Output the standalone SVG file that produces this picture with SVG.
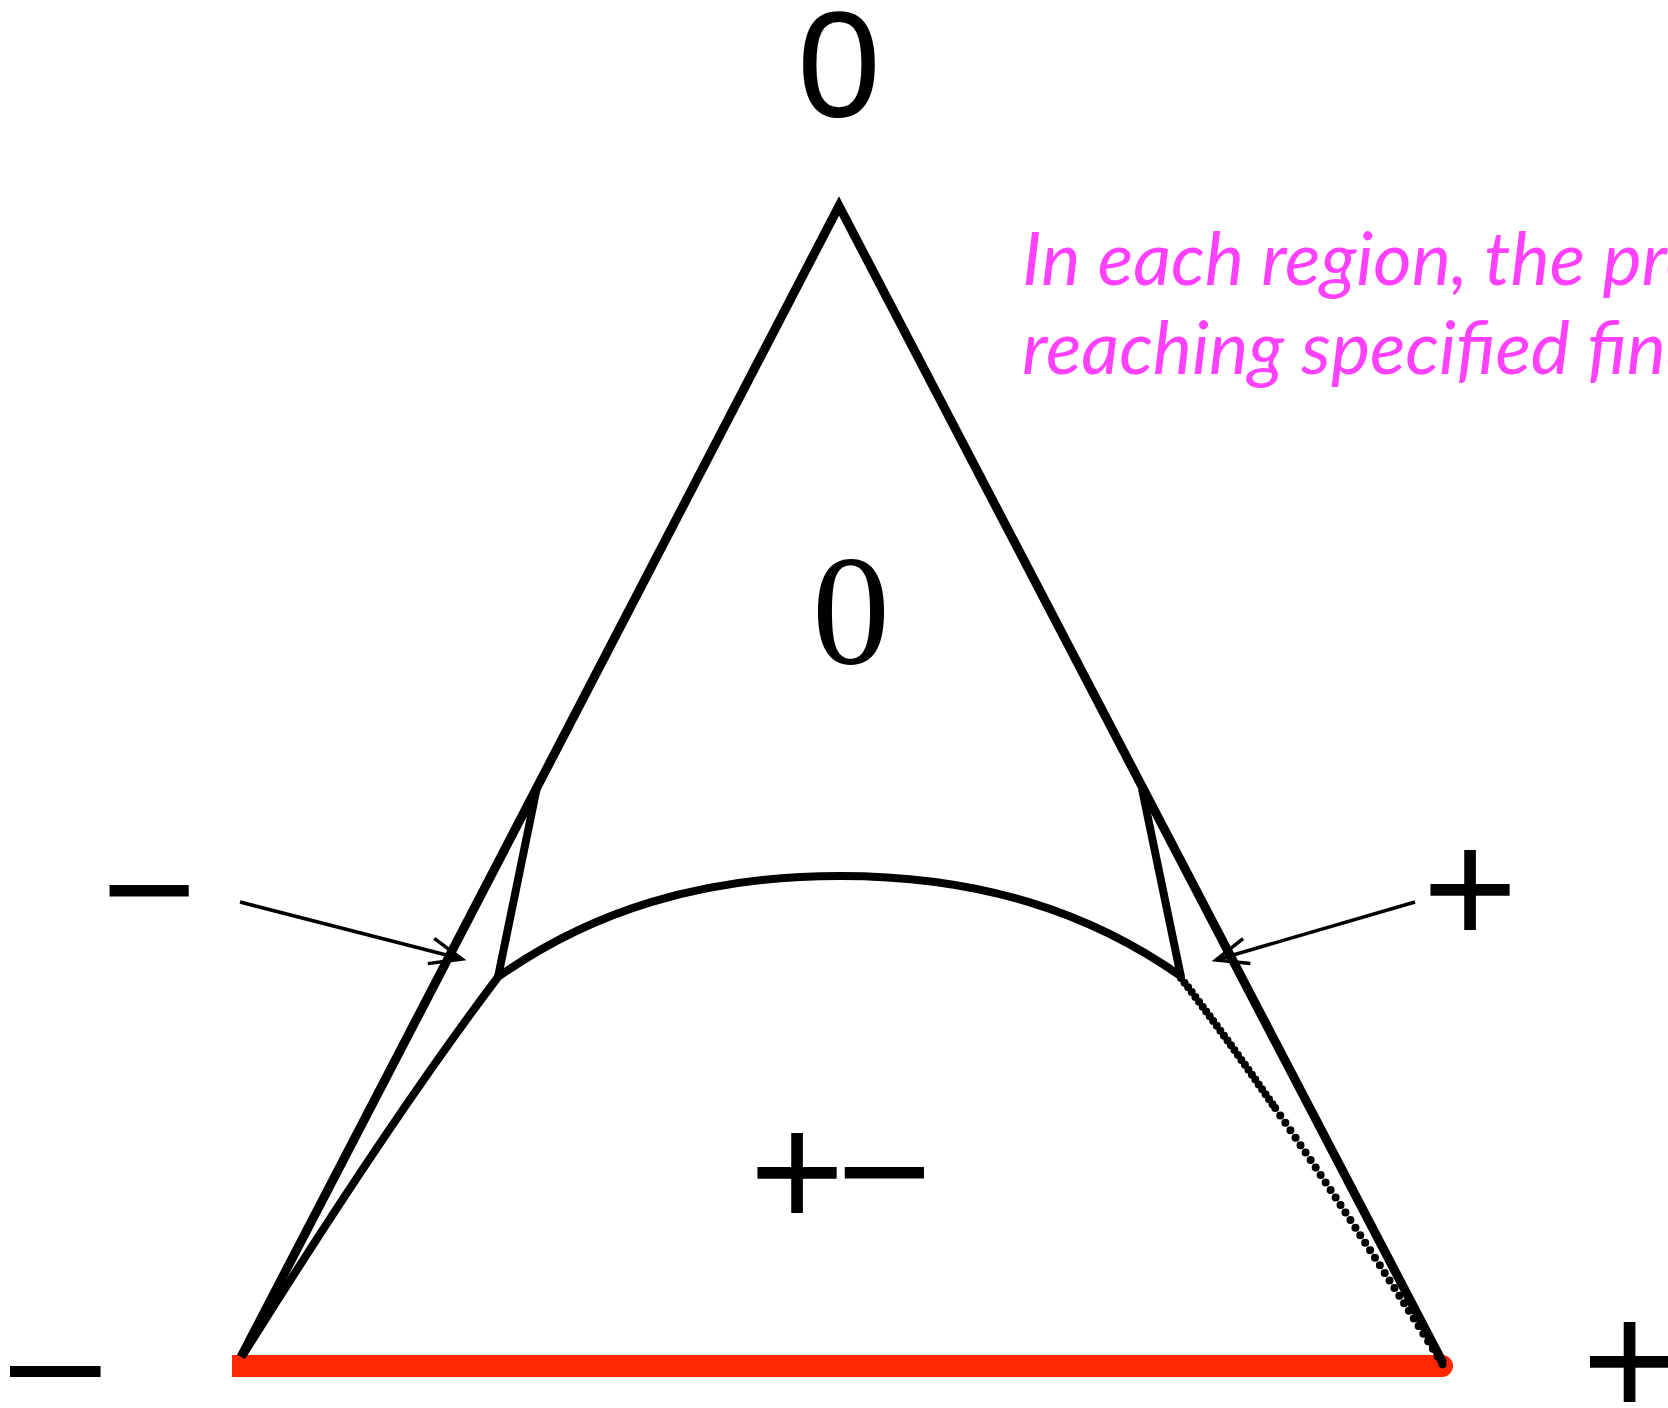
<svg xmlns="http://www.w3.org/2000/svg" width="1668" height="1408" viewBox="0 0 1668 1408">
  <style>
    .edge { fill: none; stroke: #000; stroke-width: 9; stroke-linejoin: miter; stroke-linecap: butt; }
    .thin { fill: none; stroke: #000; stroke-width: 8; stroke-linejoin: miter; stroke-linecap: butt; }
    .dots { fill: none; stroke: #000; stroke-width: 8; stroke-linecap: round; }
    .conn { fill: none; stroke: #000; stroke-width: 3.5; }
    .sign { font-family: "Liberation Sans", Arial, sans-serif; font-size: 163px; fill: #000; }
    .big0 { font-family: "Liberation Sans", Arial, sans-serif; font-size: 150px; fill: #000; text-anchor: middle; }
    .serif0 { font-family: "Liberation Serif", "Times New Roman", serif; font-size: 156px; fill: #000; text-anchor: middle; }
    .note { font-family: Lato, "Open Sans", sans-serif; font-style: italic; font-size: 74px; fill: #ff40ff; }
  </style>
  <defs>
    <marker id="arrow" markerUnits="userSpaceOnUse" viewBox="-36 -16 40 32" markerWidth="40" markerHeight="32" refX="0" refY="0" orient="auto" overflow="visible">
      <path d="M-32,-13 L0,0 L-32,13" fill="none" stroke="#000" stroke-width="3.5"/>
    </marker>
  </defs>
  <rect width="1668" height="1408" fill="#fff"/>

  <g id="base">
    <line x1="232" y1="1366" x2="1442" y2="1366" stroke="#ff2800" stroke-width="22"/>
    <circle cx="1442" cy="1366" r="11" fill="#ff2800"/>
  </g>

  <g id="triangle">
    <path class="edge" d="M241,1357 L839,206 L1443,1363"/>
  </g>

  <g id="region-boundaries">
    <path class="thin" d="M537,787 L498,977"/>
    <path class="thin" d="M1142,789 L1181,977"/>
    <path class="thin" d="M498,977 C590,912 700,876 840,876 C980,876 1090,912 1182,977"/>
    <path class="thin" d="M498,977 Q390,1120 243,1355"/>
    <path class="dots" stroke-dasharray="0 6" d="M1181,978 Q1224.6,1034.8 1275.2,1108.1"/>
    <path class="dots" stroke-dasharray="0 9" d="M1275.2,1108.1 Q1351.2,1218 1443,1365"/>
  </g>

  <g id="connectors">
    <line class="conn" x1="240" y1="902" x2="462" y2="959" marker-end="url(#arrow)"/>
    <line class="conn" x1="1415" y1="902" x2="1216" y2="960" marker-end="url(#arrow)"/>
  </g>

  <g id="label-top-zero"><text class="big0" x="839" y="117">0</text></g>
  <g id="label-region-zero"><text class="serif0" x="851" y="663">0</text></g>
  <g id="label-region-plusminus"><text class="sign" x="749.5" y="1227">+<tspan dx="-8">−</tspan></text></g>
  <g id="label-left-minus"><text class="sign" x="101.5" y="945">−</text></g>
  <g id="label-right-plus"><text class="sign" x="1422.5" y="943.5">+</text></g>
  <g id="label-bottom-left"><text class="sign" x="10" y="1413">–</text></g>
  <g id="label-bottom-right"><text class="sign" x="1582" y="1416">+</text></g>

  <g id="note">
    <text class="note" x="1022" y="285">In each region, the pro</text>
    <text class="note" x="1022" y="374">reaching specified fina</text>
  </g>
</svg>
